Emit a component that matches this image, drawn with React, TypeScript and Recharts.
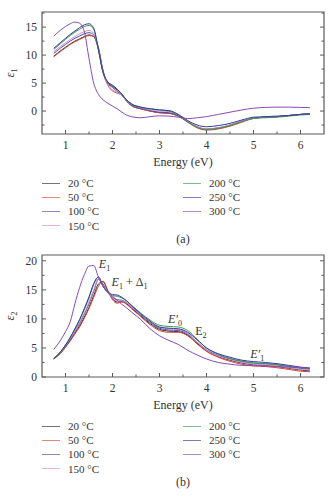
import React from 'react';
import { LineChart, Line, XAxis, YAxis, ReferenceArea, ReferenceDot } from 'recharts';

// photon energy (eV), shared by every curve
const energy = [0.75, 0.9, 1.0, 1.1, 1.2, 1.3, 1.4, 1.5, 1.6, 1.7, 1.8, 1.9, 2.0, 2.1, 2.2, 2.3, 2.4, 2.6, 2.8, 3.0, 3.2, 3.4, 3.6, 3.8, 4.0, 4.25, 4.5, 4.75, 5.0, 5.25, 5.5, 5.75, 6.0, 6.2];

const temps = ['20 °C', '50 °C', '100 °C', '150 °C', '200 °C', '250 °C', '300 °C'];
const colors = ['#2b2b2b', '#d9442f', '#4a4aa8', '#d48ad0', '#3d9a46', '#2f3aa0', '#8a48b8'];

// real part, eps1
const eps1T20 = [9.8, 10.8, 11.4, 12.0, 12.5, 12.9, 13.3, 13.6, 13.3, 11.2, 7.2, 5.0, 4.4, 3.8, 3.0, 1.8, 1.0, 0.4, 0.0, -0.3, -0.4, -0.9, -1.9, -2.9, -3.3, -3.1, -2.6, -1.9, -1.3, -1.1, -1.0, -0.8, -0.6, -0.5];
const eps1T50 = [9.7, 10.7, 11.3, 11.9, 12.4, 12.8, 13.2, 13.5, 13.3, 11.4, 7.0, 4.6, 3.6, 3.2, 2.8, 1.8, 1.0, 0.4, 0.0, -0.3, -0.4, -0.9, -2.0, -3.0, -3.4, -3.2, -2.7, -2.0, -1.3, -1.1, -1.0, -0.8, -0.6, -0.5];
const eps1T100 = [10.3, 11.3, 11.9, 12.5, 13.0, 13.4, 13.8, 14.0, 13.6, 11.0, 6.9, 5.0, 4.2, 3.5, 2.8, 1.8, 1.1, 0.5, 0.1, -0.2, -0.3, -0.8, -1.9, -2.8, -3.2, -3.0, -2.5, -1.8, -1.3, -1.1, -1.0, -0.8, -0.6, -0.5];
const eps1T150 = [10.6, 11.6, 12.2, 12.8, 13.3, 13.8, 14.2, 14.4, 13.9, 11.0, 6.8, 4.7, 3.8, 3.3, 2.8, 1.9, 1.2, 0.6, 0.2, 0.0, -0.1, -0.7, -1.8, -2.8, -3.2, -3.0, -2.5, -1.8, -1.3, -1.1, -1.0, -0.8, -0.6, -0.5];
const eps1T200 = [11.0, 12.1, 12.8, 13.5, 14.1, 14.6, 15.1, 15.3, 14.6, 11.0, 6.9, 5.2, 4.6, 3.9, 3.0, 2.0, 1.3, 0.7, 0.4, 0.2, 0.0, -0.7, -1.9, -2.9, -3.3, -3.1, -2.6, -1.9, -1.3, -1.2, -1.1, -0.9, -0.7, -0.6];
const eps1T250 = [11.2, 12.3, 13.0, 13.7, 14.3, 14.9, 15.4, 15.6, 14.8, 11.0, 6.9, 5.2, 4.6, 3.9, 3.0, 2.0, 1.3, 0.7, 0.4, 0.2, 0.1, -0.6, -1.7, -2.5, -2.8, -2.6, -2.2, -1.6, -1.1, -1.0, -0.9, -0.8, -0.6, -0.5];
const eps1T300 = [13.4, 14.5, 15.1, 15.6, 15.9, 15.7, 14.2, 9.4, 5.0, 3.0, 2.0, 1.4, 0.9, 0.4, -0.2, -0.7, -1.0, -1.2, -1.0, -0.85, -0.9, -1.1, -1.35, -1.2, -1.0, -0.6, -0.2, 0.2, 0.5, 0.65, 0.7, 0.7, 0.65, 0.6];

// imaginary part, eps2
const eps2T20 = [3.15, 4.2, 5.2, 6.3, 7.5, 8.8, 10.3, 12.0, 14.0, 16.0, 16.4, 14.8, 13.5, 12.9, 13.0, 12.6, 11.9, 10.5, 9.2, 8.2, 7.9, 7.8, 7.2, 5.8, 4.5, 3.5, 2.9, 2.4, 2.1, 2.0, 1.8, 1.5, 1.2, 1.05];
const eps2T50 = [3.1, 4.1, 5.1, 6.2, 7.4, 8.6, 10.1, 11.8, 13.7, 15.6, 16.5, 14.9, 13.3, 12.7, 12.9, 12.5, 11.8, 10.4, 9.0, 8.0, 7.7, 7.7, 7.1, 5.7, 4.4, 3.4, 2.7, 2.2, 1.9, 1.8, 1.6, 1.3, 1.0, 0.9];
const eps2T100 = [3.2, 4.3, 5.3, 6.5, 7.8, 9.2, 10.8, 12.6, 14.7, 16.8, 16.0, 14.6, 13.7, 13.3, 13.2, 12.8, 12.1, 10.7, 9.4, 8.4, 8.1, 8.0, 7.4, 6.0, 4.7, 3.7, 3.1, 2.7, 2.4, 2.3, 2.1, 1.8, 1.5, 1.35];
const eps2T150 = [3.2, 4.3, 5.4, 6.6, 7.9, 9.4, 11.0, 12.9, 15.0, 16.9, 15.8, 14.5, 13.6, 13.1, 13.1, 12.8, 12.1, 10.8, 9.5, 8.6, 8.3, 8.2, 7.5, 6.0, 4.6, 3.6, 3.0, 2.5, 2.2, 2.1, 1.9, 1.6, 1.3, 1.2];
const eps2T200 = [3.2, 4.4, 5.5, 6.8, 8.2, 9.8, 11.6, 13.6, 15.9, 17.2, 15.6, 14.5, 14.0, 13.9, 13.6, 13.1, 12.4, 11.0, 9.8, 8.9, 8.7, 8.6, 8.0, 6.5, 5.0, 3.9, 3.2, 2.7, 2.4, 2.3, 2.1, 1.8, 1.55, 1.4];
const eps2T250 = [3.1, 4.4, 5.5, 6.8, 8.3, 9.9, 11.8, 13.8, 16.1, 17.2, 15.6, 14.6, 14.2, 14.1, 13.7, 13.1, 12.3, 10.9, 9.6, 8.6, 8.4, 8.3, 7.7, 6.4, 5.0, 4.0, 3.4, 2.9, 2.65, 2.5, 2.3, 2.0, 1.7, 1.55];
const eps2T300 = [4.75, 6.4, 7.8, 9.5, 12.6, 15.4, 17.6, 19.1, 19.2, 17.2, 15.6, 14.7, 13.9, 13.2, 12.5, 11.9, 11.2, 9.9, 8.3, 7.1, 6.3, 5.6, 4.6, 3.8, 3.1, 2.5, 2.2, 2.0, 1.95, 1.9, 1.8, 1.7, 1.6, 1.5];

const eps1Series = [eps1T20, eps1T50, eps1T100, eps1T150, eps1T200, eps1T250, eps1T300];
const eps2Series = [eps2T20, eps2T50, eps2T100, eps2T150, eps2T200, eps2T250, eps2T300];

const xTicks = [1, 1.5, 2, 2.5, 3, 3.5, 4, 4.5, 5, 5.5, 6];
const eps1Ticks = [-2.5, 0, 2.5, 5, 7.5, 10, 12.5, 15, 17.5];
const eps2Ticks = [0, 2.5, 5, 7.5, 10, 12.5, 15, 17.5, 20];

// critical-point labels on panel (b)
const notes = [
  { x: 1.71, y: 18.8, sub: '1', italic: true, prime: false, tail: false },
  { x: 1.98, y: 15.6, sub: '1', italic: true, prime: false, tail: true },
  { x: 3.18, y: 9.3, sub: '0', italic: true, prime: true, tail: false },
  { x: 3.76, y: 7.3, sub: '2', italic: false, prime: false, tail: false },
  { x: 4.93, y: 3.2, sub: '1', italic: true, prime: true, tail: false },
];

const FONT = '"Liberation Serif", "Times New Roman", serif';
const FRAME = '#5a5a5a';
const TEXT = '#333';
const W = 336;
const H = 170;
const M = { top: 12, right: 12, left: 0, bottom: 0 };
const PLOT_RIGHT = W - M.right;
const X_GAP = 6;
const Y_GAP = 6;

function toRows(series: number[][]) {
  return energy.map((e, i) => {
    const row: any = { e };
    series.forEach((s, k) => (row['t' + k] = s[i]));
    return row;
  });
}

function XTick({ x, y, payload }: any) {
  const v = payload.value;
  const major = Number.isInteger(v);
  const axisY = y - X_GAP;
  return (
    <g>
      <line x1={x} x2={x} y1={axisY} y2={axisY - (major ? 4 : 2.5)} stroke={FRAME} />
      {major && (
        <text x={x} y={axisY + 15} textAnchor="middle" fill={TEXT} style={{ fontFamily: FONT, fontSize: 11.5 }}>
          {v}
        </text>
      )}
    </g>
  );
}

function YTick({ x, y, payload }: any) {
  const v = payload.value;
  const major = v % 5 === 0;
  const axisX = x + Y_GAP;
  const len = major ? 4 : 2.5;
  return (
    <g>
      <line x1={axisX} x2={axisX + len} y1={y} y2={y} stroke={FRAME} />
      <line x1={PLOT_RIGHT} x2={PLOT_RIGHT - len} y1={y} y2={y} stroke={FRAME} />
      {major && (
        <text x={axisX - 5} y={y} dy="0.35em" textAnchor="end" fill={TEXT} style={{ fontFamily: FONT, fontSize: 11.5 }}>
          {v}
        </text>
      )}
    </g>
  );
}

function EpsLabel({ viewBox, sub }: any) {
  const cx = 14;
  const cy = viewBox.y + viewBox.height / 2;
  return (
    <text transform={`translate(${cx},${cy}) rotate(-90)`} textAnchor="middle" fill={TEXT} style={{ fontFamily: FONT, fontSize: 12.5 }}>
      <tspan fontStyle="italic">ε</tspan>
      <tspan fontSize={8} dy={3}>{sub}</tspan>
    </text>
  );
}

function NoteText({ cx, cy, note }: any) {
  return (
    <text x={cx} y={cy} fill={TEXT} style={{ fontFamily: FONT, fontSize: 12 }}>
      <tspan fontStyle={note.italic ? 'italic' : 'normal'}>{note.prime ? 'E′' : 'E'}</tspan>
      <tspan fontSize={8} dy={3}>{note.sub}</tspan>
      {note.tail && (
        <>
          <tspan dy={-3}> + Δ</tspan>
          <tspan fontSize={8} dy={3}>1</tspan>
        </>
      )}
    </text>
  );
}

function Legend() {
  return (
    <>
      {temps.map((t, i) => {
        const col = i < 4 ? 0 : 1;
        const row = i < 4 ? i : i - 4;
        const left = col === 0 ? 42 : 183;
        const top = 183 + row * 14.2;
        return (
          <div key={t} style={{ position: 'absolute', left, top: top - 7, height: 14, display: 'flex', alignItems: 'center' }}>
            <div style={{ width: 18, height: 1, background: colors[i], opacity: 0.65 }} />
            <span style={{ marginLeft: 8, fontSize: 11, color: TEXT, fontFamily: FONT, whiteSpace: 'nowrap' }}>{t}</span>
          </div>
        );
      })}
    </>
  );
}

function Panel({ top, height, series, domain, yTicks, sub, caption, withNotes }: any) {
  const rows = toRows(series);
  return (
    <div style={{ position: 'absolute', left: 0, top, width: W, height }}>
      <LineChart width={W} height={H} data={rows} margin={M}>
        <XAxis
          dataKey="e"
          type="number"
          domain={[0.5, 6.5]}
          ticks={xTicks}
          interval={0}
          height={36}
          axisLine={false}
          tickLine={false}
          tickSize={0}
          tickMargin={X_GAP}
          tick={<XTick />}
          label={{ value: 'Energy (eV)', position: 'insideBottom', offset: 4, fill: TEXT, style: { fontFamily: FONT, fontSize: 12 } }}
        />
        <YAxis
          type="number"
          domain={domain}
          ticks={yTicks}
          interval={0}
          width={42}
          axisLine={false}
          tickLine={false}
          tickSize={0}
          tickMargin={Y_GAP}
          tick={<YTick />}
          label={(p: any) => <EpsLabel viewBox={p.viewBox} sub={sub} />}
        />
        <ReferenceArea x1={0.5} x2={6.5} y1={domain[0]} y2={domain[1]} fill="none" stroke={FRAME} strokeWidth={1.2} />
        {temps.map((t, k) => (
          <Line
            key={t}
            dataKey={'t' + k}
            type="monotone"
            stroke={colors[k]}
            strokeWidth={1}
            dot={false}
            isAnimationActive={false}
          />
        ))}
        {withNotes &&
          notes.map((n, i) => (
            <ReferenceDot key={i} x={n.x} y={n.y} r={0} shape={(p: any) => <NoteText cx={p.cx} cy={p.cy} note={n} />} />
          ))}
      </LineChart>
      <Legend />
      <div style={{ position: 'absolute', left: 0, width: 366, top: 232, textAlign: 'center', fontSize: 12, color: TEXT, fontFamily: FONT }}>
        {caption}
      </div>
    </div>
  );
}

export default function App() {
  return (
    <div style={{ position: 'absolute', left: 0, top: 0, width: W, height: 500, background: '#fff', overflow: 'hidden' }}>
      <Panel top={0} height={243} series={eps1Series} domain={[-4.1, 17.7]} yTicks={eps1Ticks} sub="1" caption="(a)" withNotes={false} />
      <Panel top={243} height={257} series={eps2Series} domain={[0, 21]} yTicks={eps2Ticks} sub="2" caption="(b)" withNotes={true} />
    </div>
  );
}
